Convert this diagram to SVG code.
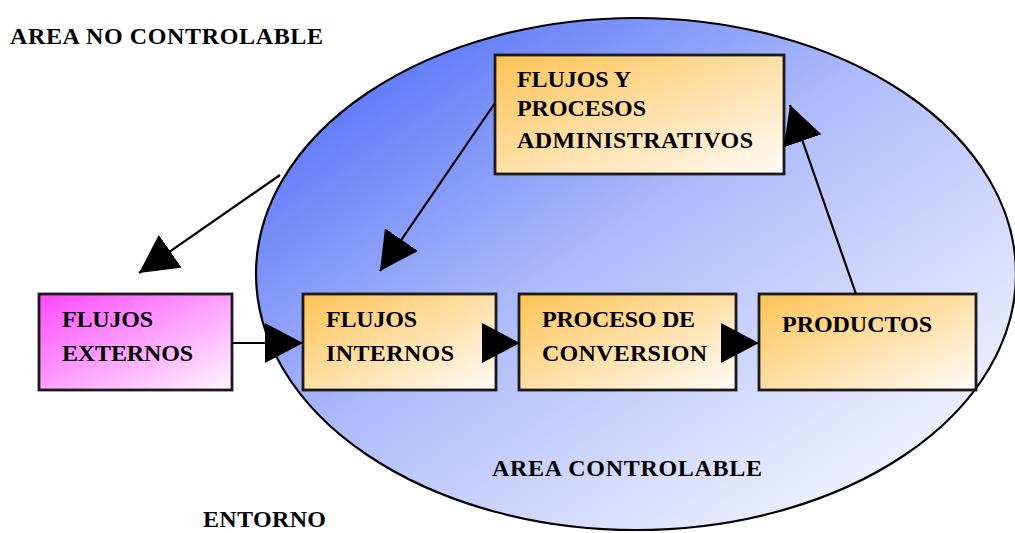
<svg xmlns="http://www.w3.org/2000/svg" width="1015" height="533" viewBox="0 0 1015 533">
  <defs>
    <linearGradient id="gradArea" x1="0" y1="0" x2="1" y2="1">
      <stop offset="0" stop-color="#3f60f6"/>
      <stop offset="0.45" stop-color="#aebbfa"/>
      <stop offset="0.8" stop-color="#e6e9fd"/>
      <stop offset="1" stop-color="#ffffff"/>
    </linearGradient>
    <linearGradient id="gradOrange" x1="0" y1="0" x2="1" y2="1">
      <stop offset="0" stop-color="#ffc354"/>
      <stop offset="1" stop-color="#fffbf8"/>
    </linearGradient>
    <linearGradient id="gradMagenta" x1="0" y1="0" x2="1" y2="1">
      <stop offset="0" stop-color="#ff48ff"/>
      <stop offset="1" stop-color="#fff6ff"/>
    </linearGradient>
    <marker id="arrow" viewBox="0 0 38 40" refX="38" refY="20" markerWidth="38" markerHeight="40" markerUnits="userSpaceOnUse" orient="auto">
      <path d="M0,0 L38,20 L0,40 Z" fill="#000"/>
    </marker>
    <style>
      .lbl { font-family: "Liberation Serif", "Times New Roman", serif; font-weight: bold; font-size: 24px; fill: #000; }
      .box { stroke: #1a1a1a; stroke-width: 2.8; }
      .conn { stroke: #000; stroke-width: 2.2; fill: none; marker-end: url(#arrow); }
    </style>
  </defs>

  <rect width="1015" height="533" fill="#fff"/>

  <!-- controllable area -->
  <g id="area-controlable">
    <ellipse cx="636" cy="274" rx="380" ry="256" fill="url(#gradArea)" stroke="#000" stroke-width="2.2"/>
  </g>

  <!-- nodes -->
  <g id="node-admin">
    <rect class="box" x="495" y="55" width="289" height="119" fill="url(#gradOrange)"/>
    <text class="lbl" x="517" y="87" textLength="114" lengthAdjust="spacing">FLUJOS Y</text>
    <text class="lbl" x="517" y="116" textLength="129" lengthAdjust="spacing">PROCESOS</text>
    <text class="lbl" x="517" y="148" textLength="236" lengthAdjust="spacing">ADMINISTRATIVOS</text>
  </g>

  <g id="node-externos">
    <rect class="box" x="39" y="294" width="193" height="96" fill="url(#gradMagenta)"/>
    <text class="lbl" x="62" y="327" textLength="91" lengthAdjust="spacing">FLUJOS</text>
    <text class="lbl" x="62" y="361" textLength="131" lengthAdjust="spacing">EXTERNOS</text>
  </g>

  <g id="node-internos">
    <rect class="box" x="303" y="294" width="193" height="96" fill="url(#gradOrange)"/>
    <text class="lbl" x="326" y="327" textLength="91" lengthAdjust="spacing">FLUJOS</text>
    <text class="lbl" x="326" y="361" textLength="128" lengthAdjust="spacing">INTERNOS</text>
  </g>

  <g id="node-conversion">
    <rect class="box" x="519" y="294" width="217" height="96" fill="url(#gradOrange)"/>
    <text class="lbl" x="542" y="327" textLength="153" lengthAdjust="spacing">PROCESO DE</text>
    <text class="lbl" x="542" y="361" textLength="165" lengthAdjust="spacing">CONVERSION</text>
  </g>

  <g id="node-productos">
    <rect class="box" x="759" y="294" width="217" height="96" fill="url(#gradOrange)"/>
    <text class="lbl" x="782" y="332" textLength="150" lengthAdjust="spacing">PRODUCTOS</text>
  </g>

  <!-- connectors -->
  <g id="connectors">
    <line class="conn" x1="280" y1="175" x2="139" y2="273"/>
    <line class="conn" x1="232" y1="343" x2="303" y2="343"/>
    <line class="conn" x1="483" y1="343" x2="520" y2="343"/>
    <line class="conn" x1="723" y1="343" x2="759" y2="343"/>
    <line class="conn" x1="495" y1="103" x2="380" y2="271"/>
    <line class="conn" x1="856" y1="294" x2="790" y2="105"/>
  </g>

  <!-- area labels -->
  <g id="labels">
    <text class="lbl" x="10" y="44" textLength="313" lengthAdjust="spacing">AREA NO CONTROLABLE</text>
    <text class="lbl" x="492" y="476" textLength="270" lengthAdjust="spacing">AREA CONTROLABLE</text>
    <text class="lbl" x="203" y="527" textLength="123" lengthAdjust="spacing">ENTORNO</text>
  </g>
</svg>
